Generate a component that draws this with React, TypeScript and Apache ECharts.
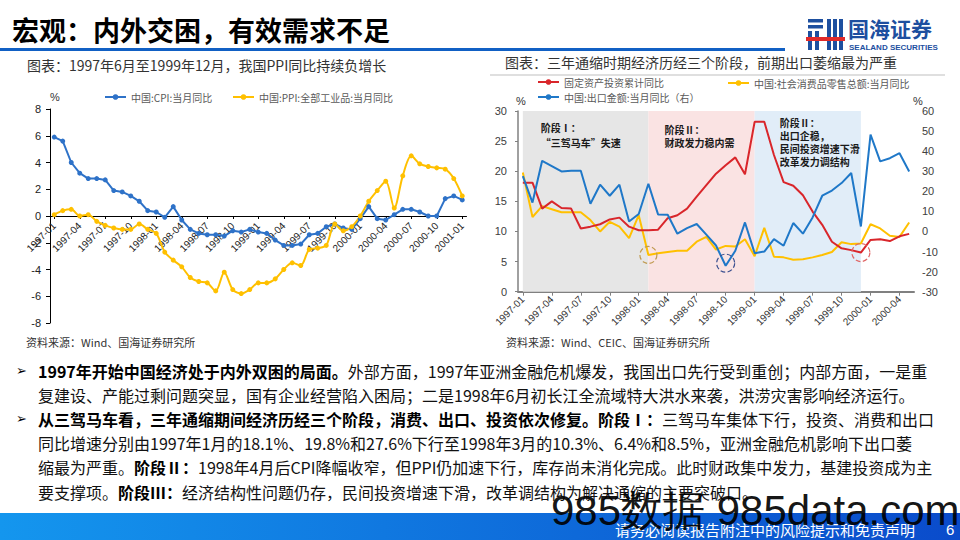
import React, { useEffect, useRef } from "react";
import * as echarts from "echarts";

function monthLabels(startYear: number, count: number): string[] {
  const out: string[] = [];
  for (let i = 0; i < count; i++) {
    const y = startYear + Math.floor(i / 12);
    const m = (i % 12) + 1;
    out.push(`${y}-${m < 10 ? "0" + m : m}`);
  }
  return out;
}

// ---------- Left chart: CPI / PPI (1997-01 .. 2001-01) ----------
const leftMonths = monthLabels(1997, 49);
const cpiYoY = [
  5.9, 5.6, 4.0, 3.2, 2.8, 2.8, 2.7, 1.9, 1.8, 1.5, 1.1, 0.4,
  0.3, -0.1, 0.7, -0.3, -1.0, -1.3, -1.4, -1.4, -1.5, -1.1, -1.2, -1.0,
  -1.2, -1.3, -1.8, -2.2, -2.2, -2.1, -1.4, -1.3, -0.8, -0.6, -0.9, -1.0,
  -0.2, 0.7, -0.2, -0.3, 0.1, 0.5, 0.5, 0.3, 0.0, 0.0, 1.3, 1.5,
  1.2,
];
const ppiYoY = [
  0.1, 0.4, 0.5, 0.0, 0.1, -0.4, -0.7, -0.9, -1.0, -1.0, -0.6, -1.0,
  -1.3, -2.7, -3.3, -3.8, -4.6, -4.9, -5.0, -5.6, -4.2, -5.5, -5.8, -5.5,
  -5.0, -5.0, -4.7, -4.0, -3.5, -3.7, -2.5, -2.4, -2.2, -0.6, -1.1, -0.8,
  0.0, 1.1, 1.9, 2.6, 0.6, 3.0, 4.5, 3.9, 3.7, 3.6, 3.5, 2.8,
  1.5,
];
const leftYTicks = { min: -8, max: 8, step: 2 };

// ---------- Right chart: three engines (1997-01 .. 2000-05) ----------
const rightMonths = monthLabels(1997, 41);
const fixedAssetInvYoY = [
  18.1, 18.1, 13.8, 15.0, 13.9, 13.8, 10.5, 10.8, 11.2, 12.0, 12.3, 10.8,
  10.2, 10.2, 10.3, 12.2, 12.7, 13.8, 15.8, 17.7, 19.6, 21.0, 22.3, 19.5,
  28.2, 28.2, 22.7, 18.2, 17.6, 16.0, 13.3, 11.1, 8.3, 7.2, 6.9, 6.5,
  8.6, 8.7, 8.4, 9.2, 9.6,
];
const retailSalesYoY = [
  19.8, 12.4, 14.2, 13.7, 13.2, 13.2, 13.2, 11.9, 10.0, 11.6, 10.8, 8.9,
  12.7, 6.1, 6.4, 6.6, 6.8, 6.8, 8.3, 9.1, 7.0, 7.6, 7.5, 8.7,
  5.9, 10.6, 5.8, 5.7, 5.3, 5.4, 5.7, 6.1, 6.6, 8.2, 7.9, 8.0,
  11.2, 10.5, 9.3, 9.1, 11.5,
];
const exportYoY = [
  27.6, 14.4, 35.2, 32.6, 29.9, 30.2, 30.2, 13.8, 23.3, 17.8, 23.3, 5.0,
  8.7, 23.8, 8.5, 8.3, -1.1, 1.7, 3.7, -1.6, -7.0, -17.1, -9.6, 4.5,
  -10.8, -10.0, -3.8, -7.1, 4.2, -1.1, 7.0, 17.8, 20.4, 24.1, 29.1, 2.5,
  48.2, 34.9, 36.5, 39.0, 29.9,
];
const rightLeftTicks = { min: 0, max: 30, step: 5 };
const rightRightTicks = { min: -30, max: 60, step: 10 };

const stages = [
  { from: "1997-01", to: "1998-02", text: "阶段Ⅰ：\n“三驾马车”失速" },
  { from: "1998-02", to: "1999-01", text: "阶段Ⅱ：\n财政发力稳内需" },
  { from: "1999-01", to: "1999-12", text: "阶段Ⅱ：\n出口企稳，\n民间投资增速下滑\n改革发力调结构" },
];

const S_CPI = "中国:CPI:当月同比";
const S_PPI = "中国:PPI:全部工业品:当月同比";
const S_FAI = "固定资产投资累计同比";
const S_EXP = "中国:出口金额:当月同比（右）";
const S_RET = "中国:社会消费品零售总额:当月同比";

const CJK = '"Noto Sans CJK SC", "Noto Sans", sans-serif';
const LAT = '"Liberation Sans", Arial, sans-serif';

function txt(x: number, y: number, text: string, size: number, o: any = {}) {
  return {
    type: "text",
    x,
    y,
    silent: true,
    z: o.z || 10,
    style: {
      text,
      fontSize: size,
      fontFamily: o.family || CJK,
      fontWeight: o.weight || "normal",
      fill: o.fill || "#000",
      opacity: o.opacity == null ? 1 : o.opacity,
      align: o.align || "left",
      verticalAlign: "middle",
      textAlign: o.align || "left",
      textVerticalAlign: "middle",
    },
  };
}

const bodyRich = {
  b: { fontSize: 16, fontWeight: "bold", fontFamily: CJK, fill: "#000" },
  n: { fontSize: 16, fontWeight: "normal", fontFamily: CJK, fill: "#111" },
};
function richLine(x: number, y: number, text: string) {
  return {
    type: "text",
    x,
    y,
    silent: true,
    z: 10,
    style: { text, rich: bodyRich, fontSize: 16, fontFamily: CJK, verticalAlign: "middle", textVerticalAlign: "middle", align: "left" },
  };
}

const bodyLines = [
  "{b|1997年开始中国经济处于内外双困的局面。}{n|外部方面，1997年亚洲金融危机爆发，我国出口先行受到重创；内部方面，一是重}",
  "{n|复建设、产能过剩问题突显，国有企业经营陷入困局；二是1998年6月初长江全流域特大洪水来袭，洪涝灾害影响经济运行。}",
  "{b|从三驾马车看，三年通缩期间经济历经三个阶段，消费、出口、投资依次修复。阶段Ⅰ：}{n|三驾马车集体下行，投资、消费和出口}",
  "{n|同比增速分别由1997年1月的18.1%、19.8%和27.6%下行至1998年3月的10.3%、6.4%和8.5%，亚洲金融危机影响下出口萎}",
  "{n|缩最为严重。}{b|阶段Ⅱ：}{n|1998年4月后CPI降幅收窄，但PPI仍加速下行，库存尚未消化完成。此时财政集中发力，基建投资成为主}",
  "{n|要支撑项。}{b|阶段Ⅲ：}{n|经济结构性问题仍存，民间投资增速下滑，改革调结构为解决通缩的主要突破口。}",
];
const bodyY = [370.5, 394.7, 418.9, 443.1, 467.3, 491.5];

const legendText = { fontSize: 10, color: "#595959", fontFamily: CJK };

const stageColors = ["#e6e6e6", "#fae3e3", "#e1edf8"];
const stageLabelOffsets = [
  [18, 9, 15],
  [16, 12, 13.3],
  [25, 5, 12.9],
];

// left grid geometry: zero line sits inside the grid, axis is shifted up to it
const LEFT_GRID = { left: 50, top: 109, width: 416.5, height: 214 };
const leftZeroOffset = -(LEFT_GRID.height * (0 - leftYTicks.min)) / (leftYTicks.max - leftYTicks.min);

const option: any = {
  animation: false,
  backgroundColor: "#ffffff",
  textStyle: { fontFamily: CJK },
  grid: [LEFT_GRID, { left: 518, top: 111, width: 396, height: 180.7 }],
  legend: [
    { data: [S_CPI], left: 104, top: 92, padding: 0, itemWidth: 21, itemHeight: 7, textStyle: legendText },
    { data: [S_PPI], left: 232, top: 92, padding: 0, itemWidth: 21, itemHeight: 7, textStyle: legendText },
    { data: [S_FAI], left: 537, top: 77, padding: 0, itemWidth: 21, itemHeight: 7, textStyle: legendText },
    { data: [S_EXP], left: 537, top: 92, padding: 0, itemWidth: 21, itemHeight: 7, textStyle: legendText },
    { data: [S_RET], left: 727, top: 78, padding: 0, itemWidth: 21, itemHeight: 7, textStyle: legendText },
  ],
  xAxis: [
    {
      type: "category",
      gridIndex: 0,
      data: leftMonths,
      boundaryGap: true,
      position: "bottom",
      offset: leftZeroOffset,
      axisLine: { onZero: false, lineStyle: { color: "#000", width: 1 } },
      axisTick: { show: true, alignWithLabel: true, interval: 2, length: 3, lineStyle: { color: "#000" } },
      axisLabel: { interval: 2, rotate: 45, fontSize: 10, color: "#222", margin: 8, fontFamily: LAT },
      splitLine: { show: false },
    },
    {
      type: "category",
      gridIndex: 1,
      data: rightMonths,
      boundaryGap: true,
      axisLine: { onZero: false, lineStyle: { color: "#808080", width: 2 } },
      axisTick: { show: true, alignWithLabel: true, interval: 2, length: 4, lineStyle: { color: "#808080" } },
      axisLabel: { interval: 2, rotate: 45, fontSize: 10, color: "#333", margin: 6, fontFamily: LAT },
      splitLine: { show: false },
    },
  ],
  yAxis: [
    {
      type: "value",
      gridIndex: 0,
      min: leftYTicks.min,
      max: leftYTicks.max,
      interval: leftYTicks.step,
      axisLine: { show: true, lineStyle: { color: "#000", width: 1 } },
      axisTick: { show: true, length: 4, lineStyle: { color: "#000" } },
      axisLabel: { fontSize: 11, color: "#222", margin: 9, fontFamily: LAT },
      splitLine: { show: false },
    },
    {
      type: "value",
      gridIndex: 1,
      position: "left",
      min: rightLeftTicks.min,
      max: rightLeftTicks.max,
      interval: rightLeftTicks.step,
      axisLine: { show: true, lineStyle: { color: "#808080", width: 1.5 } },
      axisTick: { show: true, length: 3, lineStyle: { color: "#808080" } },
      axisLabel: { fontSize: 11, color: "#404040", margin: 11, fontFamily: LAT },
      splitLine: { show: false },
    },
    {
      type: "value",
      gridIndex: 1,
      position: "right",
      min: rightRightTicks.min,
      max: rightRightTicks.max,
      interval: rightRightTicks.step,
      axisLine: { show: false },
      axisTick: { show: false },
      axisLabel: { fontSize: 11, color: "#404040", margin: 8, fontFamily: LAT },
      splitLine: { show: false },
    },
  ],
  series: [
    {
      name: S_CPI,
      type: "line",
      xAxisIndex: 0,
      yAxisIndex: 0,
      data: cpiYoY,
      symbol: "circle",
      symbolSize: 5,
      lineStyle: { color: "#2e72c8", width: 2 },
      itemStyle: { color: "#2e72c8" },
    },
    {
      name: S_PPI,
      type: "line",
      xAxisIndex: 0,
      yAxisIndex: 0,
      data: ppiYoY,
      smooth: 0.3,
      symbol: "circle",
      symbolSize: 5,
      lineStyle: { color: "#ffc000", width: 2 },
      itemStyle: { color: "#ffc000" },
    },
    {
      name: S_RET,
      type: "line",
      xAxisIndex: 1,
      yAxisIndex: 1,
      data: retailSalesYoY,
      symbol: "none",
      lineStyle: { color: "#ffc000", width: 2 },
      itemStyle: { color: "#ffc000" },
      markArea: {
        silent: true,
        data: stages.map((s, i) => [
          {
            xAxis: s.from,
            itemStyle: { color: stageColors[i] },
            label: {
              show: true,
              position: "insideTopLeft",
              distance: 0,
              offset: [stageLabelOffsets[i][0], stageLabelOffsets[i][1]],
              formatter: s.text,
              fontSize: 10,
              fontWeight: "bold",
              color: "#1a1a1a",
              lineHeight: stageLabelOffsets[i][2],
              fontFamily: CJK,
            },
          },
          { xAxis: s.to },
        ]),
      },
      markPoint: {
        silent: true,
        symbol: "circle",
        symbolSize: 17,
        label: { show: false },
        itemStyle: { color: "rgba(0,0,0,0)", borderColor: "#c09a50", borderWidth: 1.2, borderType: "dashed" },
        data: [{ coord: ["1998-02", 6.1] }],
      },
    },
    {
      name: S_FAI,
      type: "line",
      xAxisIndex: 1,
      yAxisIndex: 1,
      data: fixedAssetInvYoY,
      symbol: "none",
      lineStyle: { color: "#d9262b", width: 2 },
      itemStyle: { color: "#d9262b" },
      markPoint: {
        silent: true,
        symbol: "circle",
        symbolSize: 18,
        label: { show: false },
        itemStyle: { color: "rgba(0,0,0,0)", borderColor: "#e06666", borderWidth: 1.2, borderType: "dashed" },
        data: [{ coord: ["1999-12", 6.5] }],
      },
    },
    {
      name: S_EXP,
      type: "line",
      xAxisIndex: 1,
      yAxisIndex: 2,
      data: exportYoY,
      symbol: "none",
      lineStyle: { color: "#1f78c8", width: 2 },
      itemStyle: { color: "#1f78c8" },
      markPoint: {
        silent: true,
        symbol: "circle",
        symbolSize: 18,
        label: { show: false },
        itemStyle: { color: "rgba(0,0,0,0)", borderColor: "#3a4f8f", borderWidth: 1.2, borderType: "dashed" },
        data: [{ coord: ["1998-10", -15.8] }],
      },
    },
  ],
  graphic: [
    // header
    txt(12, 29, "宏观：内外交困，有效需求不足", 27, { weight: "bold", fill: "#000" }),
    { type: "rect", silent: true, shape: { x: 0, y: 48, width: 785, height: 3 }, style: { fill: "#1160c4" } },
    // logo
    { type: "rect", silent: true, shape: { x: 808, y: 19, width: 15, height: 3.5 }, style: { fill: "#1d4f9f" } },
    { type: "rect", silent: true, shape: { x: 808, y: 25, width: 15, height: 3.5 }, style: { fill: "#1d4f9f" } },
    { type: "rect", silent: true, shape: { x: 808, y: 31, width: 4, height: 19 }, style: { fill: "#1d4f9f" } },
    { type: "rect", silent: true, shape: { x: 815, y: 31, width: 4, height: 19 }, style: { fill: "#1d4f9f" } },
    { type: "rect", silent: true, shape: { x: 827, y: 19, width: 4, height: 31 }, style: { fill: "#1d4f9f" } },
    { type: "rect", silent: true, shape: { x: 833, y: 19, width: 4, height: 31 }, style: { fill: "#1d4f9f" } },
    { type: "rect", silent: true, shape: { x: 839, y: 19, width: 4, height: 31 }, style: { fill: "#1d4f9f" } },
    { type: "rect", silent: true, shape: { x: 806, y: 37, width: 39, height: 4 }, style: { fill: "#e02a2a" } },
    txt(848, 28, "国海证券", 21, { weight: "bold", fill: "#1d4f9f" }),
    txt(849, 47.5, "SEALAND SECURITIES", 8, { weight: "bold", fill: "#1d4f9f", family: LAT }),
    // subtitles
    txt(27, 65, "图表：1997年6月至1999年12月，我国PPI同比持续负增长", 14, { fill: "#333" }),
    txt(505, 62, "图表：三年通缩时期经济历经三个阶段，前期出口萎缩最为严重", 14, { fill: "#333" }),
    { type: "rect", silent: true, shape: { x: 490, y: 74.5, width: 455, height: 1 }, style: { fill: "#bfbfbf" } },
    // axis units
    txt(55, 97, "%", 11, { fill: "#333", align: "center", family: LAT }),
    txt(521, 101, "%", 11, { fill: "#333", align: "center", family: LAT }),
    txt(918, 101, "%", 11, { fill: "#333", align: "center", family: LAT }),
    // sources
    txt(26, 342, "资料来源：Wind、国海证券研究所", 11, { fill: "#333" }),
    txt(506, 342, "资料来源：Wind、CEIC、国海证券研究所", 11, { fill: "#333" }),
    // bullets + body
    txt(16, bodyY[0], "➢", 13, { family: '"DejaVu Sans", sans-serif', fill: "#000" }),
    txt(16, bodyY[2], "➢", 13, { family: '"DejaVu Sans", sans-serif', fill: "#000" }),
    ...bodyLines.map((l, i) => richLine(38, bodyY[i], l)),
    // footer
    {
      type: "rect",
      silent: true,
      shape: { x: 0, y: 513, width: 960, height: 27 },
      style: {
        fill: new echarts.graphic.LinearGradient(0, 0, 1, 0, [
          { offset: 0, color: "#1496ee" },
          { offset: 1, color: "#0a4bcb" },
        ]),
      },
    },
    txt(615, 529, "请务必阅读报告附注中的风险提示和免责声明", 15, { fill: "#ffffff" }),
    txt(946, 529, "6", 15, { fill: "#ffffff", family: LAT }),
    // watermark
    txt(551, 510, "985数据 985data.com", 42, { fill: "#000", family: LAT, z: 20, opacity: 0.92 }),
  ],
};

export default function App() {
  const ref = useRef<HTMLDivElement>(null);
  useEffect(() => {
    if (!ref.current) return;
    const chart = echarts.init(ref.current, null, { renderer: "svg" });
    chart.setOption(option);
    return () => {
      chart.dispose();
    };
  }, []);
  return (
    <div
      ref={ref}
      style={{ position: "fixed", left: 0, top: 0, width: 960, height: 540, background: "#fff" }}
    />
  );
}
